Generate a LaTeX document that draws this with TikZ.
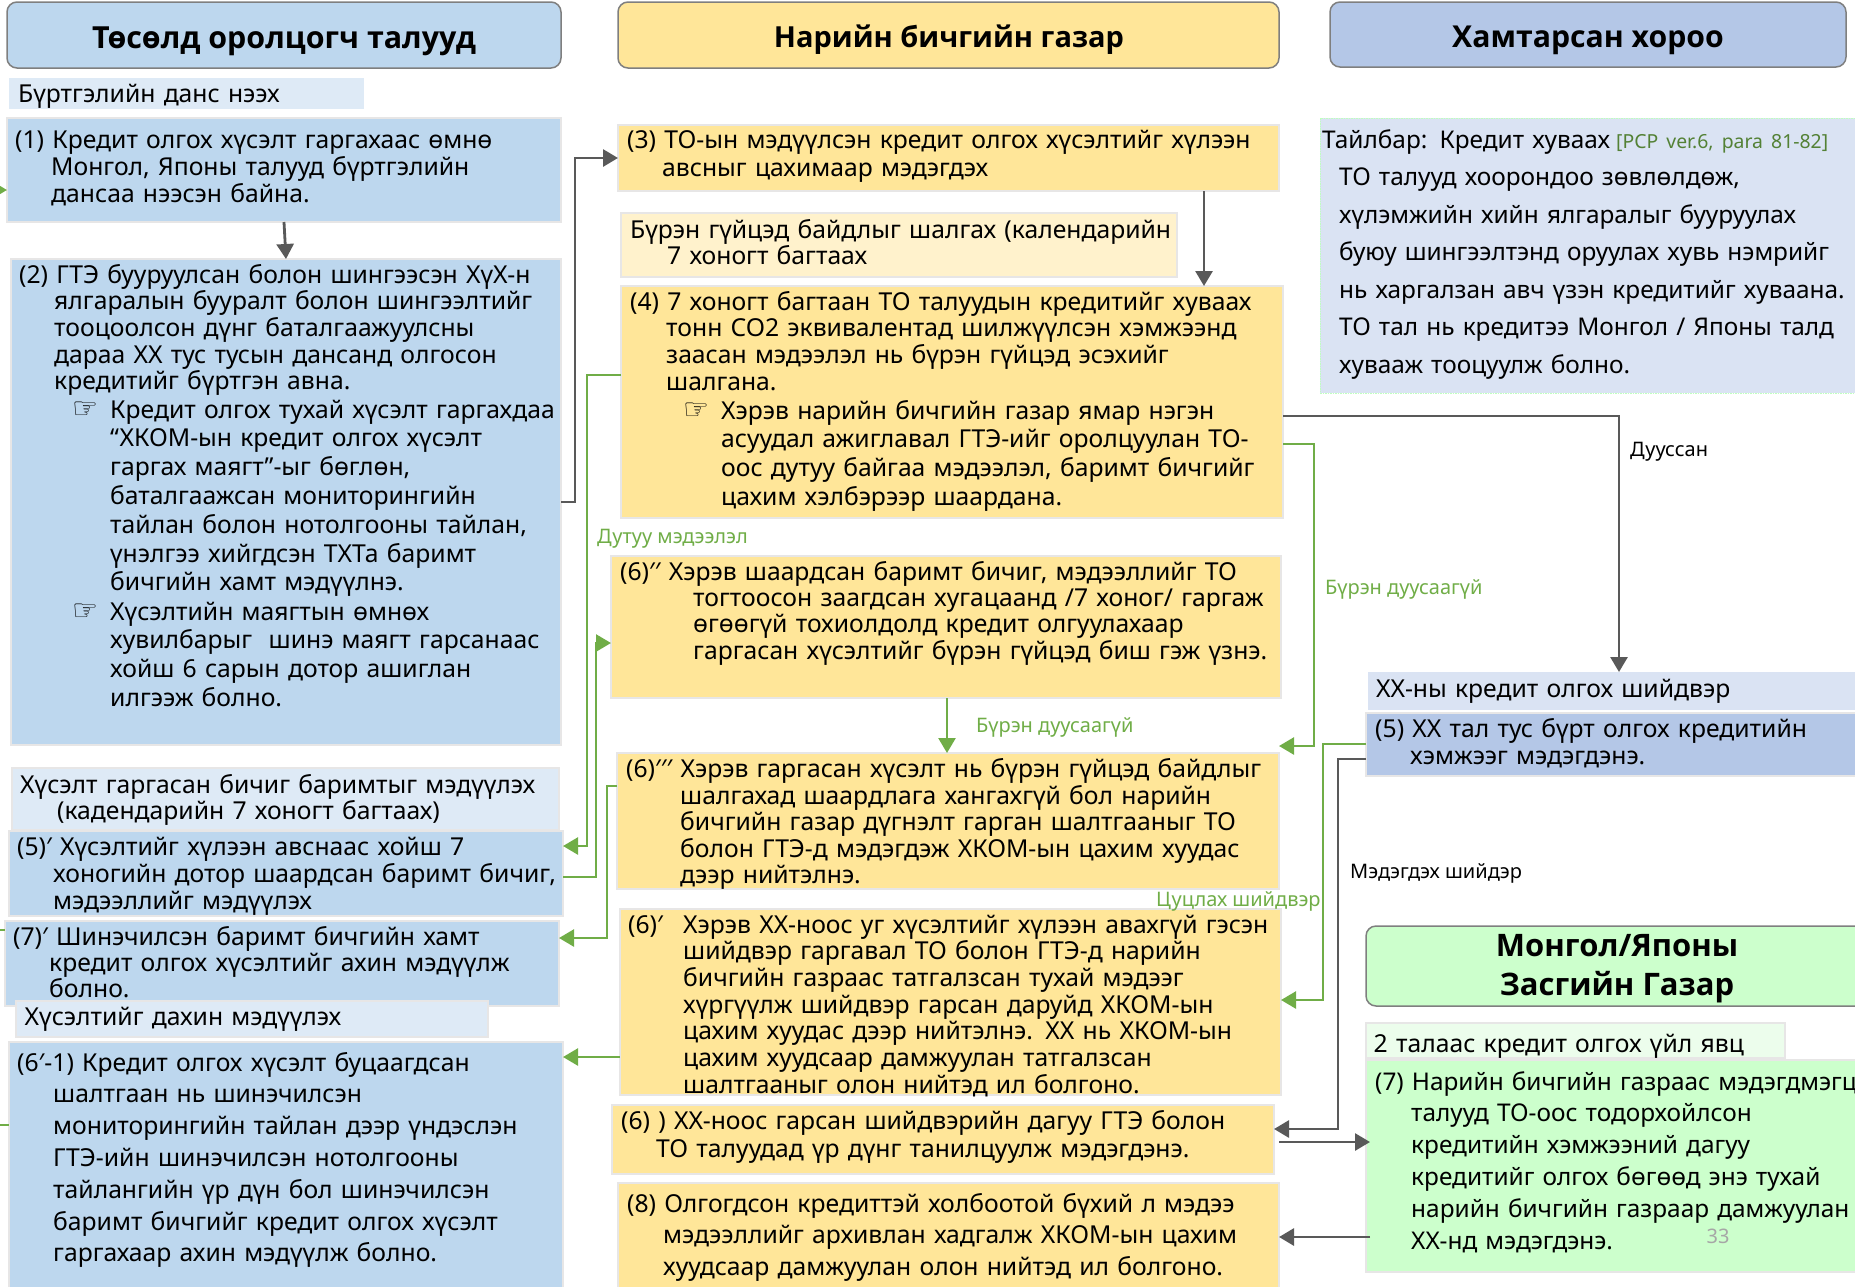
\documentclass[tikz,border=0pt]{standalone}
\usepackage{fontspec}
\setmainfont{Noto Sans}
\newfontfamily\headfont{Open Sans}
\newfontfamily\handfont{DejaVu Sans}
\usetikzlibrary{arrows.meta,fit}

\definecolor{headedge}{HTML}{7F7F7F}
\definecolor{paneledge}{HTML}{E7E6E6}
\definecolor{bluepanel}{HTML}{BDD7EE}
\definecolor{bluelabel}{HTML}{DEEAF6}
\definecolor{yellowpanel}{HTML}{FFE699}
\definecolor{yellowlabel}{HTML}{FFF2CC}
\definecolor{navypanel}{HTML}{B4C7E7}
\definecolor{navylabel}{HTML}{DAE3F3}
\definecolor{greenpanel}{HTML}{CCFFCC}
\definecolor{greenlabel}{HTML}{ECFDEC}
\definecolor{darkline}{HTML}{595959}
\definecolor{greenline}{HTML}{70AD47}
\definecolor{paraline}{HTML}{538135}
\definecolor{pagenum}{HTML}{A6A6A6}

\newcommand{\hangby}[1]{\hspace*{#1pt}}
\newcommand{\pointer}{\llap{{\handfont\fontsize{29}{22}\selectfont ☞}\hspace{12pt}}}

\tikzset{
colhead/.style={draw=headedge,line width=1.5pt,rounded corners=10pt,inner sep=0pt,outer sep=0pt},
panel/.style={draw=paneledge,line width=1.5pt,inner sep=0pt,outer sep=0pt},
headtext/.style={inner sep=0pt,anchor=base,align=center,font=\headfont\fontsize{#1}{38}\selectfont\bfseries},
bodytext/.style={anchor=base west,yshift=1pt,inner sep=0pt,text width=800pt,align=left,font=\fontsize{24.7}{#1}\selectfont},
notebody/.style={bodytext=#1,font=\fontsize{24.4}{#1}\selectfont},
smalltext/.style={inner sep=0pt,yshift=-2pt,font=\fontsize{20}{24}\selectfont},
darkarrow/.style={draw=darkline,line width=2.8pt,-{Triangle[length=15pt,width=17pt]}},
greenarrow/.style={draw=greenline,line width=2.5pt,-{Triangle[length=15pt,width=17pt]}}
}

\begin{document}
\begin{tikzpicture}[x=1pt,y=-1pt]
\useasboundingbox (0,0) rectangle (1855,1286);
\clip (0,0) rectangle (1855,1286);

% column heads
\node[colhead,fill=bluepanel,fit={(7,2) (561,68)}] (teamhead) {};
\node[headtext=30.4] (teamheadtext) at (284,48) {Төсөлд оролцогч талууд};
\node[colhead,fill=yellowpanel,fit={(618,2) (1279,68)}] (officehead) {};
\node[headtext=29] (officeheadtext) at (949,47) {Нарийн бичгийн газар};
\node[colhead,fill=navypanel,fit={(1330,2) (1846,67)}] (jointhead) {};
\node[headtext=30.2] (jointheadtext) at (1588,47) {Хамтарсан хороо};
\node[colhead,fill=greenpanel,fit={(1366,926) (1880,1006)}] (govhead) {};
\node[headtext=31] (govheadtext) at (1617,995) {Монгол/Японы\\[1pt]Засгийн Газар};

% left column
\node[panel,draw=none,fill=bluelabel,fit={(9,78) (364,109)}] (reglabel) {};
\node[bodytext=27] (reglabeltext) at (18,103) {Бүртгэлийн данс нээх};
\node[panel,fill=bluepanel,fit={(7,118) (561,222)}] (one) {};
\node[bodytext=27] (onetext) at (15,149) {(1) Кредит олгох хүсэлт гаргахаас өмнө\\
\hangby{36}Монгол, Японы талууд бүртгэлийн\\
\hangby{36}дансаа нээсэн байна.};
\node[panel,fill=bluepanel,fit={(11,259) (561,745)}] (two) {};
\node[bodytext=26.7] (twotext) at (19,284) {(2) ГТЭ бууруулсан болон шингээсэн ХүХ-н\\
\hangby{35}ялгаралын бууралт болон шингээлтийг\\
\hangby{35}тооцоолсон дүнг баталгаажуулсны\\
\hangby{35}дараа ХХ тус тусын дансанд олгосон\\
\hangby{35}кредитийг бүртгэн авна.};
\node[bodytext=28.8] (twonoteA) at (110,419) {\pointer Кредит олгох тухай хүсэлт гаргахдаа\\
“ХКОМ-ын кредит олгох хүсэлт\\
гаргах маягт”-ыг бөглөн,\\
баталгаажсан мониторингийн\\
тайлан болон нотолгооны тайлан,\\
үнэлгээ хийгдсэн ТХТа баримт\\
бичгийн хамт мэдүүлнэ.};
\node[bodytext=28.8] (twonoteB) at (110,621) {\pointer Хүсэлтийн маягтын өмнөх\\
хувилбарыг~ шинэ маягт гарсанаас\\
хойш 6 сарын дотор ашиглан\\
илгээж болно.};
\node[panel,fill=bluelabel,fit={(12,768) (559,830)}] (sendlabel) {};
\node[bodytext=26] (sendlabeltext) at (20,794) {Хүсэлт гаргасан бичиг баримтыг мэдүүлэх\\
\hangby{37}(кадендарийн 7 хоногт багтаах)};
\node[panel,fill=bluepanel,fit={(9,831) (563,916)}] (fivep) {};
\node[bodytext=27] (fivetext) at (17,856) {(5)′ Хүсэлтийг хүлээн авснаас хойш 7\\
\hangby{36}хоногийн дотор шаардсан баримт бичиг,\\
\hangby{36}мэдээллийг мэдүүлэх};
\node[panel,fill=bluepanel,fit={(5,921) (559,1006)}] (sevenp) {};
\node[bodytext=26] (seventext) at (13,946) {(7)′ Шинэчилсэн баримт бичгийн хамт\\
\hangby{36}кредит олгох хүсэлтийг ахин мэдүүлж\\
\hangby{36}болно.};
\node[panel,fill=bluelabel,fit={(16,1001) (488,1037)}] (againlabel) {};
\node[bodytext=27] (againlabeltext) at (24.5,1026) {Хүсэлтийг дахин мэдүүлэх};
\node[panel,fill=bluepanel,fit={(9,1042) (563,1295)}] (sixone) {};
\node[bodytext=31.8] (sixonetext) at (17,1072) {(6′-1) Кредит олгох хүсэлт буцаагдсан\\
\hangby{36}шалтгаан нь шинэчилсэн\\
\hangby{36}мониторингийн тайлан дээр үндэслэн\\
\hangby{36}ГТЭ-ийн шинэчилсэн нотолгооны\\
\hangby{36}тайлангийн үр дүн бол шинэчилсэн\\
\hangby{36}баримт бичгийг кредит олгох хүсэлт\\
\hangby{36}гаргахаар ахин мэдүүлж болно.};

% middle column
\node[panel,fill=yellowpanel,fit={(618,125) (1279,191)}] (three) {};
\node[bodytext=28] (threetext) at (627,149) {(3) ТО-ын мэдүүлсэн кредит олгох хүсэлтийг хүлээн\\
\hangby{35}авсныг цахимаар мэдэгдэх};
\node[panel,fill=yellowlabel,fit={(621,213) (1177,277)}] (checklabel) {};
\node[bodytext=26] (checklabeltext) at (630,239) {Бүрэн гүйцэд байдлыг шалгах (календарийн\\
\hangby{37}7 хоногт багтаах};
\node[panel,fill=yellowpanel,fit={(621,286) (1283,518)}] (four) {};
\node[bodytext=26.7] (fourtext) at (630,311) {(4) 7 хоногт багтаан ТО талуудын кредитийг хуваах\\
\hangby{36}тонн CO2 эквивалентад шилжүүлсэн хэмжээнд\\
\hangby{36}заасан мэдээлэл нь бүрэн гүйцэд эсэхийг\\
\hangby{36}шалгана.};
\node[bodytext=28.7] (fournote) at (721,420) {\pointer Хэрэв нарийн бичгийн газар ямар нэгэн\\
асуудал ажиглавал ГТЭ-ийг оролцуулан ТО-\\
оос дутуу байгаа мэдээлэл, баримт бичгийг\\
цахим хэлбэрээр шаардана.};
\node[panel,fill=yellowpanel,fit={(611,556) (1281,698)}] (sixb) {};
\node[bodytext=26.4] (sixbtext) at (620,581) {(6)′′ Хэрэв шаардсан баримт бичиг, мэдээллийг ТО\\
\hangby{73}тогтоосон заагдсан хугацаанд /7 хоног/ гаргаж\\
\hangby{73}өгөөгүй тохиолдолд кредит олгуулахаар\\
\hangby{73}гаргасан хүсэлтийг бүрэн гүйцэд биш гэж үзнэ.};
\node[panel,fill=yellowpanel,fit={(617,753) (1279,889)}] (sixc) {};
\node[bodytext=26.6] (sixctext) at (626,778.5) {(6)′′′ Хэрэв гаргасан хүсэлт нь бүрэн гүйцэд байдлыг\\
\hangby{54}шалгахад шаардлага хангахгүй бол нарийн\\
\hangby{54}бичгийн газар дүгнэлт гарган шалтгааныг ТО\\
\hangby{54}болон ГТЭ-д мэдэгдэж ХКОМ-ын цахим хуудас\\
\hangby{54}дээр нийтэлнэ.};
\node[panel,fill=yellowpanel,fit={(620,909) (1281,1095)}] (sixa) {};
\node[bodytext=26.7] (sixatext) at (628,934) {\rlap{(6)′}\hangby{55}Хэрэв ХХ-ноос уг хүсэлтийг хүлээн авахгүй гэсэн\\
\hangby{55}шийдвэр гаргавал ТО болон ГТЭ-д нарийн\\
\hangby{55}бичгийн газраас татгалзсан тухай мэдээг\\
\hangby{55}хүргүүлж шийдвэр гарсан даруйд ХКОМ-ын\\
\hangby{55}цахим хуудас дээр нийтэлнэ. ХХ нь ХКОМ-ын\\
\hangby{55}цахим хуудсаар дамжуулан татгалзсан\\
\hangby{55}шалтгааныг олон нийтэд ил болгоно.};
\node[panel,fill=yellowpanel,fit={(612,1105) (1274,1174)}] (sixd) {};
\node[bodytext=27.5] (sixdtext) at (621,1130.5) {(6) ) ХХ-ноос гарсан шийдвэрийн дагуу ГТЭ болон\\
\hangby{35}ТО талуудад үр дүнг танилцуулж мэдэгдэнэ.};
\node[panel,fill=yellowpanel,fit={(618,1183) (1279,1295)}] (eight) {};
\node[bodytext=31.5] (eighttext) at (627,1213) {(8) Олгогдсон кредиттэй холбоотой бүхий л мэдээ\\
\hangby{36}мэдээллийг архивлан хадгалж ХКОМ-ын цахим\\
\hangby{36}хуудсаар дамжуулан олон нийтэд ил болгоно.};

% right column
\node[panel,draw=green!25,densely dotted,line width=1pt,fill=navylabel,fit={(1320,118) (1870,393)}] (note) {};
\node[notebody=37.5] (notetext) at (1322,149) {Тайлбар: Кредит хуваах {\fontsize{19.4}{22}\selectfont\color{paraline}\hspace{-2pt}[PCP ver.6, para 81-82]}\\
\hangby{17}ТО талууд хоорондоо зөвлөлдөж,\\
\hangby{17}хүлэмжийн хийн ялгаралыг бууруулах\\
\hangby{17}буюу шингээлтэнд оруулах хувь нэмрийг\\
\hangby{17}нь харгалзан авч үзэн кредитийг хуваана.\\
\hangby{17}ТО тал нь кредитээ Монгол / Японы талд\\
\hangby{17}хувааж тооцуулж болно.};
\node[panel,draw=none,fill=navylabel,fit={(1368,672) (1870,710)}] (decidelabel) {};
\node[bodytext=27] (decidelabeltext) at (1376,698) {ХХ-ны кредит олгох шийдвэр};
\node[panel,fill=navypanel,fit={(1366,713) (1870,776)}] (five) {};
\node[bodytext=27] (fivebtext) at (1375,738) {(5) ХХ тал тус бүрт олгох кредитийн\\
\hangby{35}хэмжээг мэдэгдэнэ.};
\node[panel,fill=greenlabel,fit={(1366,1023) (1785,1058)}] (processlabel) {};
\node[bodytext=27] (processlabeltext) at (1373.5,1053) {2 талаас кредит олгох үйл явц};
\node[panel,fill=greenpanel,fit={(1366,1060) (1870,1272)}] (seven) {};
\node[notebody=31.8] (seventext2) at (1375,1091) {(7) Нарийн бичгийн газраас мэдэгдмэгц\\
\hangby{36}талууд ТО-оос тодорхойлсон\\
\hangby{36}кредитийн хэмжээний дагуу\\
\hangby{36}кредитийг олгох бөгөөд энэ тухай\\
\hangby{36}нарийн бичгийн газраар дамжуулан\\
\hangby{36}ХХ-нд мэдэгдэнэ.};

% free ends of the stubs on the left edge
\coordinate (stubone) at (-12,190);
\coordinate (stubseven) at (-5,930);
\coordinate (stubsix) at (-5,1125);

\draw[darkarrow] (one.south -| 284,0) -- (two.north -| 286,0);
\draw[darkarrow] (two.east |- 0,502) -- ++(14,0) |- (three.west |- 0,158);
\draw[darkarrow] (three.south -| 1204,0) -- (four.north -| 1204,0);
\draw[darkarrow] (four.east |- 0,416) -| (decidelabel.north -| 1619,0);
\draw[darkarrow] (five.west |- 0,759) -- ++(-28,0) |- (sixd.east |- 0,1129);
\draw[darkarrow] ([xshift=5pt]sixd.east |- 0,1142) -- ([xshift=4pt]seven.west |- 0,1142);
\draw[darkarrow] ([xshift=4pt]seven.west |- 0,1237) -- (eight.east |- 0,1237);

\draw[greenarrow] (four.west |- 0,375) -- ++(-34,0) |- (fivep.east |- 0,846);
\draw[greenarrow] (fivep.east |- 0,877) -- ++(33,0) |- (sixb.west |- 0,643);
\draw[greenarrow] (sixc.west |- 0,786) -- ++(-10,0) |- (sevenp.east |- 0,938);
\draw[greenarrow] (sixa.west |- 0,1057) -- (sixone.east |- 0,1057);
\draw[greenarrow] (four.east |- 0,444) -- ++(31,0) |- (sixc.east |- 0,746);
\draw[greenarrow] (five.west |- 0,744) -- ++(-43,0) |- (sixa.east |- 0,1000);
\draw[greenarrow] (sixb.south -| 947,0) -- (sixc.north -| 947,0);
\draw[greenarrow] (stubone) -- (one.west |- stubone);
\draw[draw=greenline,line width=1.5pt] (stubseven) -- (sevenp.west |- stubseven);
\draw[draw=greenline,line width=1.5pt] (stubsix) -- (sixone.west |- stubsix);

% connector labels
\node[smalltext,text=greenline,anchor=west] (lackinfo) at (597,537) {Дутуу мэдээлэл};
\node[smalltext,text=greenline,anchor=west] (unfinishedA) at (1325,587) {Бүрэн дуусаагүй};
\node[smalltext,text=greenline,anchor=west] (unfinishedB) at (976,725) {Бүрэн дуусаагүй};
\node[smalltext,text=greenline,anchor=west] (cancelled) at (1156,899) {Цуцлах шийдвэр};
\node[smalltext,anchor=west] (finished) at (1630,450) {Дууссан};
\node[smalltext,anchor=west] (announce) at (1350,871) {Мэдэгдэх шийдэр};
\node[smalltext,text=pagenum,anchor=center] (pagemark) at (1718,1234) {33};
\end{tikzpicture}
\end{document}
